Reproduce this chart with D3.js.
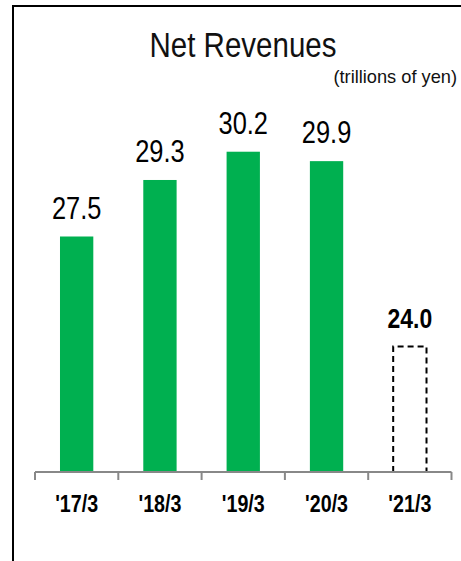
<!DOCTYPE html>
<html>
<head>
<meta charset="utf-8">
<script src="https://cdn.jsdelivr.net/npm/d3@7"></script>
<style>
  html, body { margin: 0; padding: 0; background: #fff; }
  svg { display: block; }
  text { font-family: "Liberation Sans Narrow", "Arial Narrow", "Liberation Sans", Arial, sans-serif; }
</style>
</head>
<body>
<svg id="chart" width="461" height="561"></svg>
<script>
// Fiscal years (ending March) and net revenues, trillions of yen
const periods = ["'17/3", "'18/3", "'19/3", "'20/3", "'21/3"];
const revenues = [27.5, 29.3, 30.2, 29.9, 24.0];
const forecast = [false, false, false, false, true];
const labels = ["27.5", "29.3", "30.2", "29.9", "24.0"];
const title = "Net Revenues";
const unit = "(trillions of yen)";

const svg = d3.select("#chart");
const W = 461, H = 561;
const baseY = 472;
const NARROW = 0.82; // horizontal squeeze for a condensed face

// Condensed text placed at (x, y)
function narrowText(parent, x, y, str, opts) {
  const sx = opts.squeeze || NARROW;
  const g = parent.append("g").attr("transform", `translate(${x},${y}) scale(${sx},1)`);
  return g.append("text")
    .attr("text-anchor", opts.anchor || "middle")
    .attr("font-size", opts.size)
    .attr("font-weight", opts.weight || "normal")
    .attr("fill", opts.fill || "#000")
    .text(str);
}

// Frame: top and left edges
svg.append("line").attr("x1", 13).attr("x2", W).attr("y1", 6).attr("y2", 6)
  .attr("stroke", "#000").attr("stroke-width", 2);
svg.append("line").attr("x1", 13).attr("x2", 13).attr("y1", 5).attr("y2", H)
  .attr("stroke", "#000").attr("stroke-width", 2);

const x = d3.scaleBand().domain(periods).range([35, 451.5]).padding(0);
// Truncated value axis starting at 20
const y = d3.scaleLinear().domain([20, 30]).range([baseY, 158]);
const barW = x.bandwidth() * 0.4;
const cx = p => x(p) + x.bandwidth() / 2;

const data = periods.map((p, i) => ({ p, v: revenues[i], f: forecast[i], label: labels[i] }));

// Actual results as solid green bars
svg.append("g").selectAll("rect")
  .data(data.filter(d => !d.f))
  .join("rect")
  .attr("x", d => cx(d.p) - barW / 2)
  .attr("y", d => y(d.v))
  .attr("width", barW)
  .attr("height", d => baseY - y(d.v))
  .attr("fill", "#00b050");

// Forecast as an open dashed outline
data.filter(d => d.f).forEach(d => {
  const x0 = cx(d.p) - barW / 2, x1 = x0 + barW, yt = y(d.v);
  svg.append("path")
    .attr("d", `M${x0},${baseY}V${yt}H${x1}V${baseY}`)
    .attr("fill", "none")
    .attr("stroke", "#000")
    .attr("stroke-width", 2)
    .attr("stroke-dasharray", "6,4");
});

// Value labels
const labelG = svg.append("g");
data.forEach(d => {
  narrowText(labelG, cx(d.p), y(d.v) - 18, d.label,
    { size: d.f ? 28 : 31, weight: d.f ? "bold" : "normal" });
});

// Category axis with ticks at band boundaries
const axisG = svg.append("g").attr("transform", `translate(0,${baseY})`);
axisG.append("line").attr("x1", x.range()[0]).attr("x2", x.range()[1])
  .attr("y1", 0).attr("y2", 0).attr("stroke", "#888").attr("stroke-width", 2);
const bounds = periods.map(p => x(p)).concat([x.range()[1]]);
axisG.selectAll("line.tick").data(bounds).join("line")
  .attr("class", "tick")
  .attr("x1", d => d).attr("x2", d => d)
  .attr("y1", 0).attr("y2", 8)
  .attr("stroke", "#888").attr("stroke-width", 2);
periods.forEach(p => {
  narrowText(axisG, cx(p), 40, p, { size: 24, weight: "bold" });
});

// Title and unit
narrowText(svg, 243, 57, title, { size: 36, fill: "#111" });
narrowText(svg, 457, 83, unit, { size: 19, fill: "#111", anchor: "end", squeeze: 0.96 });
</script>
</body>
</html>
